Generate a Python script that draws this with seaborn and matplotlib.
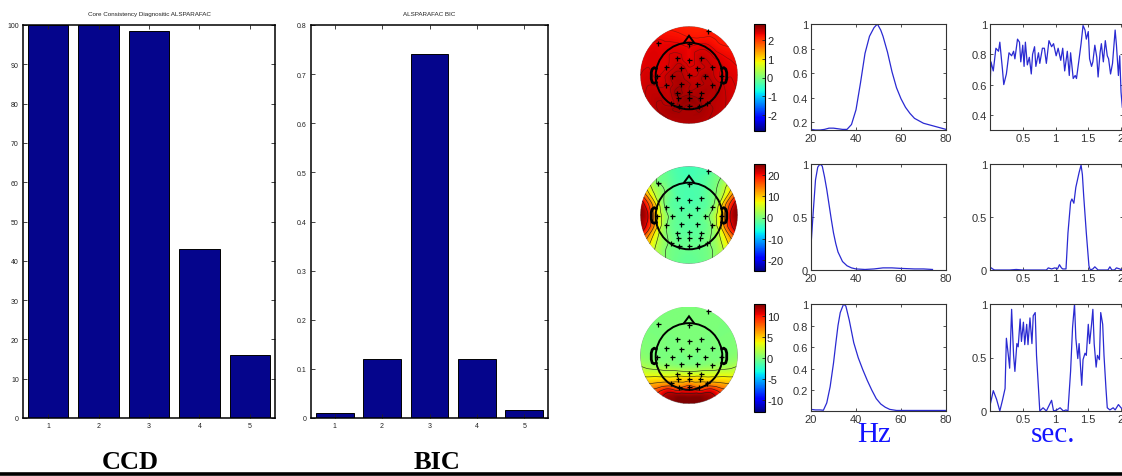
import numpy as np
import pandas as pd
import matplotlib
matplotlib.use("Agg")
import matplotlib.pyplot as plt
import matplotlib.tri as mtri
from matplotlib import font_manager
from matplotlib.patches import Circle
from matplotlib.lines import Line2D
from matplotlib.cm import ScalarMappable
from matplotlib.colors import Normalize
import seaborn as sns

# ---------------- data ----------------
n_components = ["1", "2", "3", "4", "5"]
ccd_values = [100, 100, 98.5, 43, 16]
bic_values = [0.010, 0.120, 0.740, 0.120, 0.016]

ccd_title = "Core Consistency Diagnositic ALSPARAFAC"
bic_title = "ALSPARAFAC BIC"

# spectral signatures (Hz, normalised amplitude)
hz1 = [20, 22, 24, 26, 28, 30, 32, 34, 36, 38, 40, 42, 44, 46, 48, 49.5, 51, 52, 54, 56,
       58, 60, 62, 64, 66, 68, 70, 72, 74, 76, 78, 80]
amp1 = [0.14, 0.135, 0.135, 0.14, 0.15, 0.15, 0.145, 0.14, 0.14, 0.18, 0.30, 0.52, 0.76,
        0.90, 0.97, 1.0, 0.95, 0.90, 0.77, 0.61, 0.48, 0.39, 0.32, 0.27, 0.23, 0.21, 0.19,
        0.18, 0.17, 0.16, 0.15, 0.14]
hz2 = [20, 21, 22, 23, 24, 25, 26, 27, 28, 29, 30, 31, 32, 34, 36, 38, 40, 44, 48, 52, 56,
       60, 66, 70, 74]
amp2 = [0.23, 0.55, 0.85, 0.97, 1.0, 0.98, 0.88, 0.76, 0.62, 0.48, 0.35, 0.25, 0.17, 0.08,
        0.04, 0.02, 0.01, 0.005, 0.01, 0.02, 0.02, 0.015, 0.01, 0.01, 0.005]
hz3 = [20, 22, 24, 25.5, 27, 28.5, 30, 31, 32, 33, 34.5, 35.5, 37, 39, 41, 43, 45, 47, 49,
       51, 53, 55, 58, 62, 70, 80]
amp3 = [0.02, 0.015, 0.015, 0.012, 0.08, 0.23, 0.45, 0.63, 0.80, 0.92, 1.0, 0.98, 0.85,
        0.64, 0.50, 0.39, 0.29, 0.20, 0.12, 0.07, 0.04, 0.02, 0.01, 0.01, 0.01, 0.01]

# temporal signatures (sec, normalised amplitude)
t1 = [0.00, 0.015, 0.05, 0.09, 0.13, 0.15, 0.19, 0.21, 0.25, 0.29, 0.33, 0.36, 0.38, 0.42,
      0.45, 0.47, 0.50, 0.52, 0.54, 0.57, 0.60, 0.63, 0.65, 0.68, 0.70, 0.74, 0.76, 0.80,
      0.83, 0.86, 0.90, 0.94, 0.97, 1.01, 1.04, 1.08, 1.11, 1.14, 1.18, 1.21, 1.23, 1.27,
      1.30, 1.32, 1.36, 1.39, 1.42, 1.45, 1.47, 1.50, 1.52, 1.55, 1.57, 1.60, 1.63, 1.65,
      1.68, 1.70, 1.73, 1.76, 1.79, 1.81, 1.84, 1.87, 1.91, 1.93, 1.96, 1.98, 2.00, 2.02]
sig1 = [0.58, 0.75, 0.69, 0.84, 0.82, 0.88, 0.70, 0.60, 0.67, 0.81, 0.79, 0.82, 0.77, 0.90,
        0.88, 0.75, 0.86, 0.72, 0.88, 0.73, 0.78, 0.67, 0.80, 0.85, 0.72, 0.81, 0.74, 0.84,
        0.84, 0.74, 0.89, 0.85, 0.87, 0.79, 0.84, 0.76, 0.84, 0.69, 0.82, 0.66, 0.81, 0.64,
        0.66, 0.64, 0.77, 0.87, 0.99, 0.96, 0.90, 0.95, 0.77, 0.72, 0.75, 0.86, 0.78, 0.65,
        0.81, 0.87, 0.75, 0.89, 0.79, 0.77, 0.67, 0.74, 0.96, 0.86, 0.66, 0.79, 0.55, 0.45]
t2 = [0.00, 0.02, 0.04, 0.07, 0.10, 0.20, 0.30, 0.40, 0.50, 0.60, 0.70, 0.80, 0.86, 0.89,
      0.94, 0.99, 1.03, 1.06, 1.09, 1.11, 1.16, 1.19, 1.23, 1.25, 1.28, 1.31, 1.36, 1.39,
      1.41, 1.43, 1.47, 1.51, 1.53, 1.57, 1.60, 1.65, 1.70, 1.80, 1.83, 1.86, 1.90, 1.93,
      1.98, 2.02]
sig2 = [0.01, 0.02, 0.01, 0.0, 0.0, 0.0, 0.0, 0.005, 0.0, 0.0, 0.0, 0.0, 0.0, 0.02, 0.01,
        0.02, 0.01, 0.05, 0.02, 0.01, 0.01, 0.35, 0.64, 0.67, 0.63, 0.78, 0.92, 0.99, 0.90,
        0.70, 0.35, 0.04, 0.0, 0.01, 0.03, 0.0, 0.0, 0.0, 0.03, 0.0, 0.0, 0.02, 0.01, 0.0]
t3 = [0.00, 0.05, 0.10, 0.15, 0.19, 0.23, 0.25, 0.28, 0.30, 0.33, 0.36, 0.38, 0.41, 0.43,
      0.46, 0.48, 0.51, 0.53, 0.56, 0.58, 0.61, 0.64, 0.66, 0.69, 0.71, 0.74, 0.76, 0.81,
      0.86, 0.90, 0.94, 0.97, 1.02, 1.07, 1.12, 1.16, 1.19, 1.23, 1.26, 1.29, 1.31, 1.34,
      1.36, 1.38, 1.40, 1.42, 1.45, 1.47, 1.50, 1.52, 1.55, 1.57, 1.59, 1.62, 1.64, 1.67,
      1.69, 1.72, 1.74, 1.77, 1.79, 1.83, 1.88, 1.91, 1.96, 2.00, 2.02]
sig3 = [0.05, 0.19, 0.11, 0.0, 0.10, 0.21, 0.68, 0.52, 0.40, 0.95, 0.52, 0.37, 0.63, 0.60,
        0.86, 0.65, 0.83, 0.62, 0.81, 0.62, 0.87, 0.63, 0.89, 0.92, 0.52, 0.21, 0.0, 0.03,
        0.0, 0.05, 0.10, 0.0, 0.01, 0.03, 0.0, 0.01, 0.0, 0.37, 0.78, 1.0, 0.68, 0.49, 0.63,
        0.43, 0.24, 0.48, 0.54, 0.52, 0.81, 0.63, 0.81, 0.95, 0.63, 0.41, 0.52, 0.48, 0.92,
        0.81, 0.52, 0.21, 0.03, 0.01, 0.03, 0.01, 0.06, 0.03, 0.02]

# electrode layout (plot-radius units, nose up)
elec_x = [0.39, -0.63, 0.00, -0.24, 0.00, 0.24, -0.47, -0.16, 0.16, 0.47, -0.66, -0.34, 0.00,
          0.32, 0.66, -0.47, -0.16, 0.16, 0.47, -0.24, 0.00, 0.24, -0.22, 0.00, 0.22, -0.37,
          -0.20, 0.00, 0.20, 0.37]
elec_y = [0.90, 0.65, 0.63, 0.34, 0.30, 0.34, 0.16, 0.14, 0.14, 0.16, -0.03, -0.03, -0.01,
          -0.03, -0.03, -0.20, -0.18, -0.18, -0.20, -0.37, -0.35, -0.37, -0.47, -0.47, -0.47,
          -0.57, -0.64, -0.64, -0.64, -0.57]
# spatial signatures at electrodes
topo1 = [2.2, 2.35, 2.3, 2.45, 2.35, 2.5, 2.4, 2.55, 2.45, 2.5, 2.4, 2.6, 2.5, 2.6, 2.4,
         2.5, 2.65, 2.55, 2.6, 2.7, 2.6, 2.65, 2.65, 2.75, 2.65, 2.55, 2.7, 2.65, 2.7, 2.6]
topo2 = [-3, 0, -3, -2.5, -3, -2.5, 0, -2.5, -2.5, 0, 9, -1, -2, -1, 9, 1, -2, -2, 1,
         -1.5, -2, -1.5, -1.5, -1.5, -1.5, 0, -1, -1, -1, 0]
topo3 = [0, 0, 0, 0, 0, 0, 0, 0, 0, 0, 0, 0, 0, 0, 0, 0.5, 0, 0, 0.5, 2.5, 2.0, 2.5, 4.5, 4.5,
         4.5, 6, 7, 8, 7, 6]

# extrapolated field around the head, every 15 degrees counter-clockwise from the right:
# an inner ring (radius 0.86) and the outer rim (radius 1.02)
ring_angles = list(range(0, 360, 15))
ring1 = [2.4, 2.35, 2.3, 2.25, 2.25, 2.2, 2.2, 2.25, 2.3, 2.35, 2.4, 2.4, 2.45, 2.5, 2.55,
         2.6, 2.65, 2.65, 2.65, 2.65, 2.6, 2.55, 2.5, 2.45]
rim1 = [2.35, 2.3, 2.25, 2.2, 2.2, 2.15, 2.15, 2.2, 2.25, 2.3, 2.35, 2.35, 2.4, 2.45, 2.5,
        2.55, 2.55, 2.6, 2.6, 2.6, 2.55, 2.5, 2.45, 2.4]
ring2 = [22, 17, 6, 1, -1.5, -3, -3.5, -3, -1.5, 1, 6, 17, 22, 19, 9, 3, 0, -1, -1.5, -1, 0,
         3, 9, 19]
rim2 = [25.4, 23, 10, 2, -1, -3, -3.5, -3, -1, 2, 10, 23, 25.4, 24, 13, 5, 1, -1, -1.5, -1, 1,
        5, 13, 24]
ring3 = [0.3, 0.1, 0, 0, 0, 0, 0, 0, 0, 0, 0, 0.1, 0.3, 1.2, 3.5, 6.5, 11, 12.5, 12.8, 12.5,
         11, 6.5, 3.5, 1.2]
rim3 = [0.5, 0.2, 0, 0, 0, 0, 0, 0, 0, 0, 0, 0.2, 0.5, 2, 4.5, 8, 12, 13, 13, 13, 12, 8, 4.5, 2]

cbar_limits = [2.88, 25.4, 13.0]
cbar_ticks = [[-2, -1, 0, 1, 2], [-20, -10, 0, 10, 20], [-10, -5, 0, 5, 10]]

# ---------------- styling ----------------
W, H = 1122, 477
plt.rcParams["axes.unicode_minus"] = False
plt.rcParams["font.family"] = ["Liberation Sans", "DejaVu Sans"]
installed = {f.name for f in font_manager.fontManager.ttflist}
narrow = "Liberation Sans Narrow" if "Liberation Sans Narrow" in installed else "Liberation Sans"

bar_color = "#05058c"
line_color = "#2a2ad2"
label_blue = "#1414ff"

fig = plt.figure(figsize=(W / 100, H / 100), dpi=100)
fig.patch.set_facecolor("white")


def px_axes(left, top, right, bottom):
    return fig.add_axes([left / W, 1 - bottom / H, (right - left) / W, (bottom - top) / H])


def bar_panel(ax, values, title, yticks, ylabels, ylim):
    df = pd.DataFrame({"n": n_components, "v": values})
    sns.barplot(data=df, x="n", y="v", color=bar_color, saturation=1, width=0.8,
                edgecolor="black", linewidth=0.7, ax=ax)
    ax.set_xlim(-0.5, 4.5)
    ax.set_ylim(*ylim)
    ax.set_xlabel("")
    ax.set_ylabel("")
    ax.set_yticks(yticks)
    ax.set_yticklabels(ylabels, family=narrow)
    for lab in ax.get_xticklabels():
        lab.set_family(narrow)
    ax.tick_params(direction="in", top=True, right=True, length=3, width=0.6,
                   labelsize=5, pad=3, colors="#222222")
    for s in ax.spines.values():
        s.set_linewidth(1.1)
        s.set_color("black")
    ax.set_title(title, fontsize=4.5, family=narrow, pad=7, color="#222222")


ax_ccd = px_axes(23, 26, 275, 419)
bar_panel(ax_ccd, ccd_values, ccd_title, list(range(0, 101, 10)),
          [str(v) for v in range(0, 101, 10)], (0, 100))
ax_bic = px_axes(311, 26, 548, 419)
bic_ticks = [0, 0.1, 0.2, 0.3, 0.4, 0.5, 0.6, 0.7, 0.8]
bar_panel(ax_bic, bic_values, bic_title, bic_ticks,
          ["0"] + [f"{v:.1f}" for v in bic_ticks[1:]], (0, 0.8))

fig.text(130 / W, 1 - 469 / H, "CCD", ha="center", va="baseline", fontsize=19,
         fontweight="bold", family="Liberation Serif")
fig.text(437 / W, 1 - 469 / H, "BIC", ha="center", va="baseline", fontsize=19,
         fontweight="bold", family="Liberation Serif")
fig.add_artist(Line2D([0, 1], [1 - 475 / H] * 2, color="black", lw=2.6,
                      transform=fig.transFigure))


# ---------------- scalp maps ----------------
def topo_panel(ax, values, ring, rim, vmax, line_alpha):
    ang = np.deg2rad(ring_angles)
    px = np.concatenate([elec_x, 0.86 * np.cos(ang), 1.02 * np.cos(ang)])
    py = np.concatenate([elec_y, 0.86 * np.sin(ang), 1.02 * np.sin(ang)])
    pv = np.concatenate([values, ring, rim])
    tri = mtri.Triangulation(px, py)
    interp = mtri.CubicTriInterpolator(tri, pv, kind="geom")
    g = np.linspace(-1, 1, 241)
    gx, gy = np.meshgrid(g, g)
    gz = interp(gx, gy)
    gz = np.ma.masked_where(np.ma.getmaskarray(gz) | (gx ** 2 + gy ** 2 > 1.0), gz)
    im = ax.imshow(gz, extent=(-1, 1, -1, 1), origin="lower", cmap="jet",
                   vmin=-vmax, vmax=vmax, interpolation="bilinear")
    im.set_clip_path(Circle((0, 0), 1.0, transform=ax.transData))
    lv = np.linspace(gz.min(), gz.max(), 8)[1:-1]
    cs = ax.contour(gx, gy, gz, levels=lv, colors="#1a1a1a", linewidths=0.45,
                    linestyles="solid", alpha=line_alpha)
    cs.set_clip_path(Circle((0, 0), 1.0, transform=ax.transData))
    # head outline, nose and ears
    ax.add_patch(Circle((0, -0.02), 0.68, fill=False, lw=1.4, ec="black"))
    ax.plot([-0.1, 0, 0.1], [0.665, 0.80, 0.665], color="black", lw=1.4,
            solid_joinstyle="miter")
    for sgn in (-1, 1):
        ex = np.array([0.67, 0.71, 0.75, 0.77, 0.77, 0.75, 0.71, 0.67]) * sgn
        ey = np.array([0.13, 0.15, 0.12, 0.05, -0.08, -0.15, -0.17, -0.15])
        ax.plot(ex, ey, color="black", lw=2.0)
    ax.plot(elec_x, elec_y, "+", color="black", ms=3.6, mew=0.9)
    ax.set_xlim(-1, 1)
    ax.set_ylim(-1, 1)
    ax.set_aspect("equal")
    ax.axis("off")


def colorbar_panel(cax, vmax, ticks):
    sm = ScalarMappable(norm=Normalize(-vmax, vmax), cmap="jet")
    cb = fig.colorbar(sm, cax=cax, ticks=ticks)
    cb.ax.set_yticklabels([str(t) for t in ticks])
    cb.ax.tick_params(labelsize=8, length=2, width=0.6, direction="in", pad=1.5,
                      colors="#222222")
    cb.outline.set_linewidth(0.8)


def line_panel(ax, x, y, xlim, ylim, xticks, xlabels, yticks, ylabels):
    sns.lineplot(x=x, y=y, ax=ax, color=line_color, linewidth=0.9, sort=False)
    ax.set_xlim(*xlim)
    ax.set_ylim(*ylim)
    ax.set_xticks(xticks)
    ax.set_xticklabels(xlabels)
    ax.set_yticks(yticks)
    ax.set_yticklabels(ylabels)
    ax.set_xlabel("")
    ax.set_ylabel("")
    ax.tick_params(direction="in", top=True, right=True, length=2.5, width=0.6,
                   labelsize=8, pad=2, colors="#333333")
    for s in ax.spines.values():
        s.set_linewidth(0.8)
        s.set_color("#333333")


rows = [(25, 131), (165, 271), (305, 412)]
topo_vals = [topo1, topo2, topo3]
ring_vals = [ring1, ring2, ring3]
rim_vals = [rim1, rim2, rim3]
line_alphas = [0.45, 0.9, 0.9]
spectra = [(hz1, amp1), (hz2, amp2), (hz3, amp3)]
series = [(t1, sig1), (t2, sig2), (t3, sig3)]
freq_ylims = [(0.135, 1.0), (0.0, 1.0), (0.005, 1.0)]
freq_yticks = [[0.2, 0.4, 0.6, 0.8, 1], [0, 0.5, 1], [0.2, 0.4, 0.6, 0.8, 1]]
freq_ylabels = [["0.2", "0.4", "0.6", "0.8", "1"], ["0", "0.5", "1"],
                ["0.2", "0.4", "0.6", "0.8", "1"]]
time_ylims = [(0.3, 1.0), (0.0, 1.0), (0.0, 1.0)]
time_yticks = [[0.4, 0.6, 0.8, 1], [0, 0.5, 1], [0, 0.5, 1]]
time_ylabels = [["0.4", "0.6", "0.8", "1"], ["0", "0.5", "1"], ["0", "0.5", "1"]]

for i, (top, bottom) in enumerate(rows):
    cy = (top + bottom) / 2 - 2
    ax_t = px_axes(640, cy - 49, 738, cy + 49)
    topo_panel(ax_t, topo_vals[i], ring_vals[i], rim_vals[i], cbar_limits[i], line_alphas[i])
    cax = px_axes(754, top, 765, bottom + 1)
    colorbar_panel(cax, cbar_limits[i], cbar_ticks[i])
    ax_f = px_axes(811, top, 946, bottom)
    line_panel(ax_f, spectra[i][0], spectra[i][1], (20, 80), freq_ylims[i],
               [20, 40, 60, 80], ["20", "40", "60", "80"], freq_yticks[i], freq_ylabels[i])
    ax_s = px_axes(990, top, 1123, bottom)
    line_panel(ax_s, series[i][0], series[i][1], (0, 2.03), time_ylims[i],
               [0.5, 1, 1.5, 2], ["0.5", "1", "1.5", "2"], time_yticks[i], time_ylabels[i])

fig.text(874 / W, 1 - 442 / H, "Hz", ha="center", va="baseline", fontsize=21,
         family="Liberation Serif", color=label_blue)
fig.text(1053 / W, 1 - 442 / H, "sec.", ha="center", va="baseline", fontsize=21,
         family="Liberation Serif", color=label_blue)

fig.savefig("out.png", dpi=100)
